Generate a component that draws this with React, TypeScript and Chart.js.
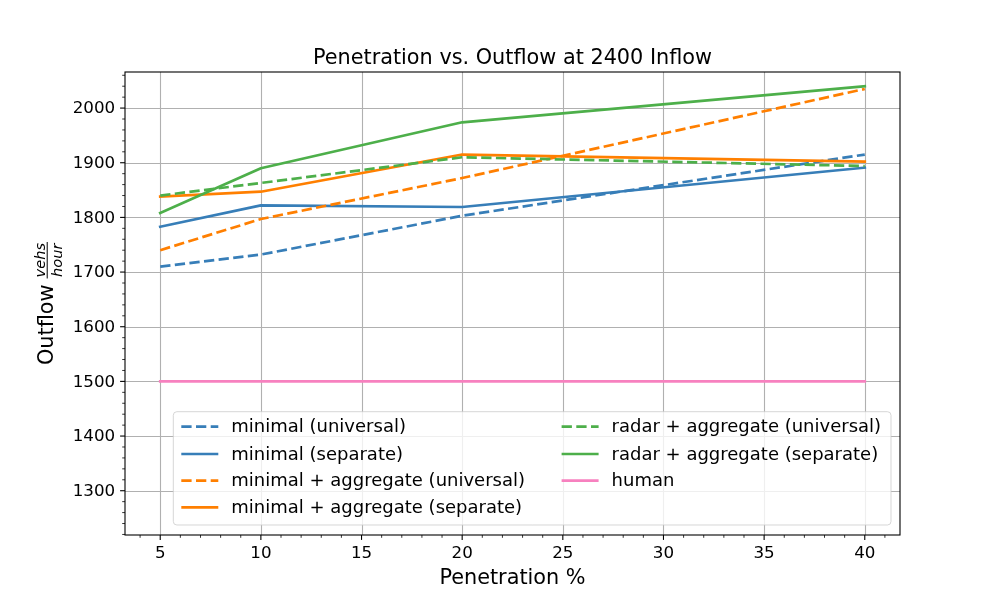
import React, { useEffect, useRef } from 'react';
import { Chart, registerables } from 'chart.js';

Chart.register(...registerables);

// penetration (%) on the x axis
const penetration = [5, 10, 20, 40];

// outflow (vehs/hour) per controller setup
const minimalUniversal = [1710, 1732, 1803, 1915];
const minimalSeparate = [1783, 1822, 1819, 1891];
const minAggUniversal = [1740, 1797, 1872, 2035];
const minAggSeparate = [1838, 1847, 1915, 1902];
const radarAggUniversal = [1840, 1863, 1910, 1894];
const radarAggSeparate = [1808, 1890, 1974, 2040];
const human = [1500, 1500, 1500, 1500];

const xTicks = [5, 10, 15, 20, 25, 30, 35, 40];
const yTicks = [1300, 1400, 1500, 1600, 1700, 1800, 1900, 2000];

const FONT = '"DejaVu Sans", sans-serif';
const DASH = [10.3, 4.4];

const series = [
  { label: 'minimal (universal)', data: minimalUniversal, color: '#377eb8', dashed: true },
  { label: 'minimal (separate)', data: minimalSeparate, color: '#377eb8', dashed: false },
  { label: 'minimal + aggregate (universal)', data: minAggUniversal, color: '#ff7f00', dashed: true },
  { label: 'minimal + aggregate (separate)', data: minAggSeparate, color: '#ff7f00', dashed: false },
  { label: 'radar + aggregate (universal)', data: radarAggUniversal, color: '#4daf4a', dashed: true },
  { label: 'radar + aggregate (separate)', data: radarAggSeparate, color: '#4daf4a', dashed: false },
  { label: 'human', data: human, color: '#f781bf', dashed: false },
];

// matplotlib-like axes: grid, frame, in/out ticks, labels and an in-plot legend
const mplAxes = {
  id: 'mplAxes',
  beforeDatasetsDraw(chart: any) {
    const { ctx, chartArea: a, scales } = chart;
    ctx.save();
    ctx.strokeStyle = '#b0b0b0';
    ctx.lineWidth = 1.1;
    xTicks.forEach((v) => {
      const x = Math.round(scales.x.getPixelForValue(v)) + 0.5;
      ctx.beginPath();
      ctx.moveTo(x, a.top);
      ctx.lineTo(x, a.bottom);
      ctx.stroke();
    });
    yTicks.forEach((v) => {
      const y = Math.round(scales.y.getPixelForValue(v)) + 0.5;
      ctx.beginPath();
      ctx.moveTo(a.left, y);
      ctx.lineTo(a.right, y);
      ctx.stroke();
    });
    ctx.restore();
  },
  afterDatasetsDraw(chart: any) {
    const { ctx, chartArea: a, scales } = chart;
    const xs = scales.x;
    const ys = scales.y;
    ctx.save();

    // frame
    ctx.strokeStyle = '#000';
    ctx.lineWidth = 1.1;
    ctx.strokeRect(a.left, a.top, a.right - a.left, a.bottom - a.top);

    // minor ticks
    ctx.lineWidth = 0.8;
    for (let v = Math.ceil(xs.min); v <= xs.max; v++) {
      if (v % 5 === 0) continue;
      const x = xs.getPixelForValue(v);
      ctx.beginPath();
      ctx.moveTo(x, a.bottom);
      ctx.lineTo(x, a.bottom + 2.8);
      ctx.stroke();
    }
    for (let v = Math.ceil(ys.min / 20) * 20; v <= ys.max; v += 20) {
      if (v % 100 === 0) continue;
      const y = ys.getPixelForValue(v);
      ctx.beginPath();
      ctx.moveTo(a.left, y);
      ctx.lineTo(a.left - 2.8, y);
      ctx.stroke();
    }

    // major ticks + labels
    ctx.lineWidth = 1.1;
    ctx.fillStyle = '#000';
    ctx.font = `16.7px ${FONT}`;
    ctx.textAlign = 'center';
    ctx.textBaseline = 'top';
    xTicks.forEach((v) => {
      const x = xs.getPixelForValue(v);
      ctx.beginPath();
      ctx.moveTo(x, a.bottom);
      ctx.lineTo(x, a.bottom + 4.9);
      ctx.stroke();
      ctx.fillText(String(v), x, a.bottom + 10.5);
    });
    ctx.textAlign = 'right';
    ctx.textBaseline = 'middle';
    yTicks.forEach((v) => {
      const y = ys.getPixelForValue(v);
      ctx.beginPath();
      ctx.moveTo(a.left, y);
      ctx.lineTo(a.left - 4.9, y);
      ctx.stroke();
      ctx.fillText(String(v), a.left - 9.8, y + 1);
    });

    // title and x label
    const cx = (a.left + a.right) / 2;
    const cy = (a.top + a.bottom) / 2;
    ctx.font = `20.8px ${FONT}`;
    ctx.textAlign = 'center';
    ctx.textBaseline = 'alphabetic';
    ctx.fillText('Penetration vs. Outflow at 2400 Inflow', cx, a.top - 8.3);
    ctx.fillText('Penetration %', cx, 584);

    // y label: Outflow vehs/hour as a fraction
    ctx.save();
    ctx.translate(53, cy);
    ctx.rotate(-Math.PI / 2);
    ctx.textAlign = 'left';
    ctx.font = `20.8px ${FONT}`;
    const wordW = ctx.measureText('Outflow').width;
    ctx.font = `italic 14.6px ${FONT}`;
    const fracW = Math.max(ctx.measureText('vehs').width, ctx.measureText('hour').width) + 2;
    const gap = 6;
    const x0 = -(wordW + gap + fracW) / 2;
    ctx.font = `20.8px ${FONT}`;
    ctx.fillText('Outflow', x0, 0);
    const fx = x0 + wordW + gap;
    ctx.font = `italic 14.6px ${FONT}`;
    ctx.textAlign = 'center';
    ctx.fillText('vehs', fx + fracW / 2, -8.5);
    ctx.fillText('hour', fx + fracW / 2, 9);
    ctx.fillRect(fx, -6.3, fracW, 1);
    ctx.restore();

    // legend
    const lx = a.left + 48.3;
    const ly = a.top + 339.7;
    const lw = 717.7;
    const lh = 113.3;
    ctx.beginPath();
    ctx.roundRect(lx, ly, lw, lh, 3.6);
    ctx.fillStyle = 'rgba(255,255,255,0.8)';
    ctx.fill();
    ctx.strokeStyle = 'rgba(204,204,204,0.8)';
    ctx.lineWidth = 1;
    ctx.stroke();

    const colX = [lx + 8, lx + 388.3];
    const rowY = [ly + 15, ly + 42.3, ly + 69, ly + 95.6];
    ctx.font = `18px ${FONT}`;
    ctx.textAlign = 'left';
    ctx.textBaseline = 'middle';
    chart.data.datasets.forEach((ds: any, i: number) => {
      const col = i < 4 ? 0 : 1;
      const row = i < 4 ? i : i - 4;
      const hx = colX[col];
      const hy = rowY[row];
      ctx.strokeStyle = ds.borderColor;
      ctx.lineWidth = ds.borderWidth;
      ctx.setLineDash(ds.borderDash || []);
      ctx.beginPath();
      ctx.moveTo(hx, hy);
      ctx.lineTo(hx + 37, hy);
      ctx.stroke();
      ctx.setLineDash([]);
      ctx.fillStyle = '#000';
      ctx.fillText(ds.label, hx + 50, hy + 1);
    });

    ctx.restore();
  },
};

const App: React.FC = () => {
  const canvasRef = useRef<HTMLCanvasElement>(null);
  const chartRef = useRef<Chart | null>(null);

  useEffect(() => {
    if (!canvasRef.current) return;
    if (chartRef.current) chartRef.current.destroy();

    chartRef.current = new Chart(canvasRef.current, {
      type: 'line',
      data: {
        datasets: series.map((s, i) => ({
          label: s.label,
          data: penetration.map((p, j) => ({ x: p, y: s.data[j] })),
          borderColor: s.color,
          backgroundColor: s.color,
          borderWidth: 2.7,
          borderDash: s.dashed ? DASH : [],
          borderCapStyle: s.dashed ? 'butt' : 'square',
          borderJoinStyle: 'round',
          pointRadius: 0,
          tension: 0,
          fill: false,
          order: series.length - i,
        })),
      },
      options: {
        animation: false,
        responsive: true,
        maintainAspectRatio: false,
        layout: { padding: { left: 125, top: 72, right: 100, bottom: 65 } },
        scales: {
          x: { type: 'linear', display: false, min: 3.25, max: 41.75 },
          y: { type: 'linear', display: false, min: 1219, max: 2066 },
        },
        plugins: {
          legend: { display: false },
          title: { display: false },
          tooltip: { enabled: false },
        },
      },
      plugins: [mplAxes],
    } as any);

    return () => {
      if (chartRef.current) {
        chartRef.current.destroy();
        chartRef.current = null;
      }
    };
  }, []);

  return (
    <div
      style={{ position: 'absolute', left: 0, top: 0, width: 1000, height: 600, background: '#fff' }}
      role="img"
      aria-label="Penetration vs. Outflow at 2400 Inflow"
    >
      <canvas ref={canvasRef} />
    </div>
  );
};

export default App;
